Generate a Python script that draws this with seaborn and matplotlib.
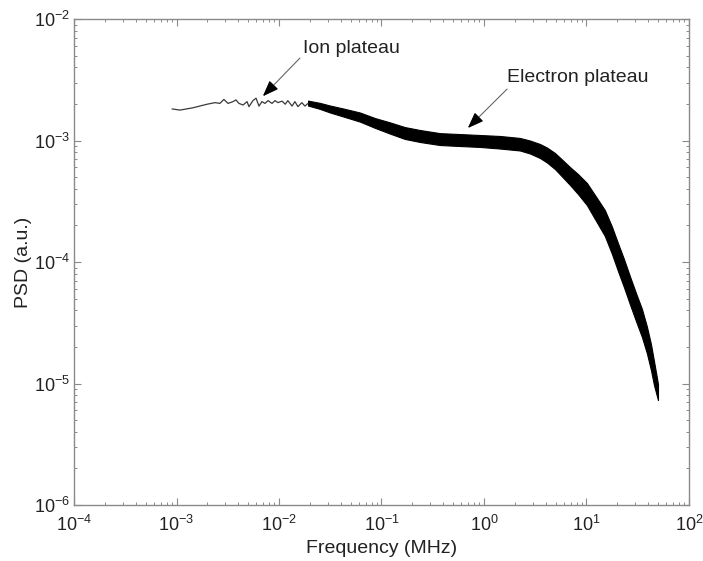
import matplotlib
matplotlib.use("Agg")
import matplotlib.pyplot as plt
import seaborn as sns
import numpy as np
import pandas as pd

# ---- data ----
# low-frequency part (thin jagged line)
ion_freq = [0.000904, 0.00108, 0.00145, 0.00199, 0.00238, 0.00265, 0.00290, 0.00318,
            0.00356, 0.00380, 0.00407, 0.00446, 0.00488, 0.00509, 0.00557, 0.00597,
            0.00638, 0.00682, 0.00729, 0.00782, 0.00855, 0.00914, 0.00977, 0.0107,
            0.0115, 0.0122, 0.0134, 0.0143, 0.0153, 0.0167, 0.0179, 0.0192]
ion_psd = [1.82e-3, 1.78e-3, 1.86e-3, 1.99e-3, 2.05e-3, 2.02e-3, 2.18e-3, 2.02e-3,
           2.09e-3, 2.16e-3, 2.02e-3, 1.96e-3, 2.09e-3, 1.90e-3, 2.13e-3, 2.23e-3,
           1.92e-3, 2.09e-3, 2.02e-3, 2.13e-3, 2.02e-3, 2.13e-3, 2.05e-3, 2.11e-3,
           1.99e-3, 2.13e-3, 1.92e-3, 2.09e-3, 1.90e-3, 2.05e-3, 1.92e-3, 2.02e-3]

# higher-frequency part: envelope of the noisy band
band_freq = [0.0192, 0.0251, 0.0315, 0.0441, 0.0617, 0.0865, 0.121, 0.169, 0.238,
             0.372, 0.583, 0.914, 1.43, 2.24, 2.81, 3.52, 4.12, 4.93, 5.77, 6.90,
             8.26, 10.1, 12.1, 15.1, 17.7, 20.3, 23.2, 26.5, 30.4, 34.8, 38.9,
             42.6, 45.6, 49.9]
band_upper = [2.13e-3, 2.04e-3, 1.94e-3, 1.82e-3, 1.70e-3, 1.53e-3, 1.41e-3, 1.29e-3,
              1.22e-3, 1.15e-3, 1.13e-3, 1.11e-3, 1.09e-3, 1.05e-3, 1.00e-3, 9.36e-4,
              8.75e-4, 7.89e-4, 6.98e-4, 6.05e-4, 5.30e-4, 4.47e-4, 3.56e-4, 2.68e-4,
              1.96e-4, 1.43e-4, 1.06e-4, 7.67e-5, 5.56e-5, 4.10e-5, 2.94e-5, 2.11e-5,
              1.53e-5, 9.9e-6]
band_lower = [1.94e-3, 1.82e-3, 1.70e-3, 1.56e-3, 1.43e-3, 1.27e-3, 1.14e-3, 1.03e-3,
              9.72e-4, 9.18e-4, 9.01e-4, 8.85e-4, 8.59e-4, 8.28e-4, 7.82e-4, 7.18e-4,
              6.59e-4, 5.82e-4, 5.06e-4, 4.31e-4, 3.63e-4, 2.94e-4, 2.26e-4, 1.64e-4,
              1.17e-4, 8.43e-5, 6.22e-5, 4.51e-5, 3.27e-5, 2.41e-5, 1.77e-5, 1.29e-5,
              9.7e-6, 7.3e-6]

x_ticks = [1e-4, 1e-3, 1e-2, 1e-1, 1e0, 1e1, 1e2]
y_ticks = [1e-6, 1e-5, 1e-4, 1e-3, 1e-2]

annotations = [
    # text, text position (f, psd), arrow tail (f, psd), arrow tip (f, psd)
    ("Ion plateau", (0.0171, 5.77e-3), (0.016, 4.77e-3), (0.00698, 2.32e-3)),
    ("Electron plateau", (1.68, 3.27e-3), (1.68, 2.65e-3), (0.698, 1.27e-3)),
]

x_label = "Frequency (MHz)"
y_label = "PSD (a.u.)"

# ---- styling ----
sns.set_theme(style="ticks")
plt.rcParams['font.family'] = ['Liberation Sans', 'DejaVu Sans']
plt.rcParams['mathtext.fontset'] = 'custom'
plt.rcParams['mathtext.rm'] = 'Liberation Sans'
plt.rcParams['mathtext.it'] = 'Liberation Sans:italic'

fig = plt.figure(figsize=(7.03, 5.61), dpi=100)
ax = fig.add_axes([0.1053, 0.0998, 0.8747, 0.8663])

df_ion = pd.DataFrame({"f": ion_freq, "psd": ion_psd})
sns.lineplot(data=df_ion, x="f", y="psd", ax=ax, color="#3a3a3a", linewidth=0.9,
             sort=False, estimator=None)
ax.fill_between(band_freq, band_lower, band_upper, color="black", linewidth=0.8,
                edgecolor="black")

ax.set_xscale("log")
ax.set_yscale("log")
ax.set_xlim(x_ticks[0], x_ticks[-1])
ax.set_ylim(y_ticks[0], y_ticks[-1])

ax.set_xlabel(x_label, fontsize=14, color="#222222", labelpad=4)
ax.set_ylabel(y_label, fontsize=14, color="#222222")
ax.yaxis.set_label_coords(-0.068, 0.5)

for spine in ax.spines.values():
    spine.set_visible(True)
    spine.set_color("#8a8a8a")
    spine.set_linewidth(1.0)

ax.tick_params(which="both", direction="in", top=True, right=True,
               color="#8a8a8a", labelcolor="#222222")
ax.tick_params(which="major", length=5, width=0.8, labelsize=13)
ax.tick_params(axis="y", which="major", pad=3)
ax.tick_params(axis="x", which="major", pad=7)
ax.tick_params(which="minor", length=2.5, width=0.7)

fmt = matplotlib.ticker.LogFormatterSciNotation()
ax.xaxis.set_major_locator(matplotlib.ticker.FixedLocator(x_ticks))
ax.yaxis.set_major_locator(matplotlib.ticker.FixedLocator(y_ticks))
ax.xaxis.set_major_formatter(matplotlib.ticker.LogFormatterSciNotation())
ax.yaxis.set_major_formatter(matplotlib.ticker.LogFormatterSciNotation())
x_minor = [m * t for t in x_ticks[:-1] for m in range(2, 10)]
y_minor = [m * t for t in y_ticks[:-1] for m in range(2, 10)]
ax.xaxis.set_minor_locator(matplotlib.ticker.FixedLocator(x_minor))
ax.yaxis.set_minor_locator(matplotlib.ticker.FixedLocator(y_minor))
ax.xaxis.set_minor_formatter(matplotlib.ticker.NullFormatter())
ax.yaxis.set_minor_formatter(matplotlib.ticker.NullFormatter())

for text, tpos, tail, tip in annotations:
    ax.text(tpos[0], tpos[1], text, fontsize=14, color="#222222", ha="left", va="center")
    ax.annotate("", xy=tip, xytext=tail,
                arrowprops=dict(arrowstyle="-|>,head_length=0.8,head_width=0.3",
                                color="#666666", lw=0.8,
                                shrinkA=0, shrinkB=0))
    ax.annotate("", xy=tip, xytext=(tip[0] * (tail[0] / tip[0]) ** 0.2,
                                     tip[1] * (tail[1] / tip[1]) ** 0.2),
                arrowprops=dict(arrowstyle="-|>,head_length=0.8,head_width=0.3",
                                color="black", lw=0.8, shrinkA=0, shrinkB=0))

fig.savefig("out.png", dpi=100)
